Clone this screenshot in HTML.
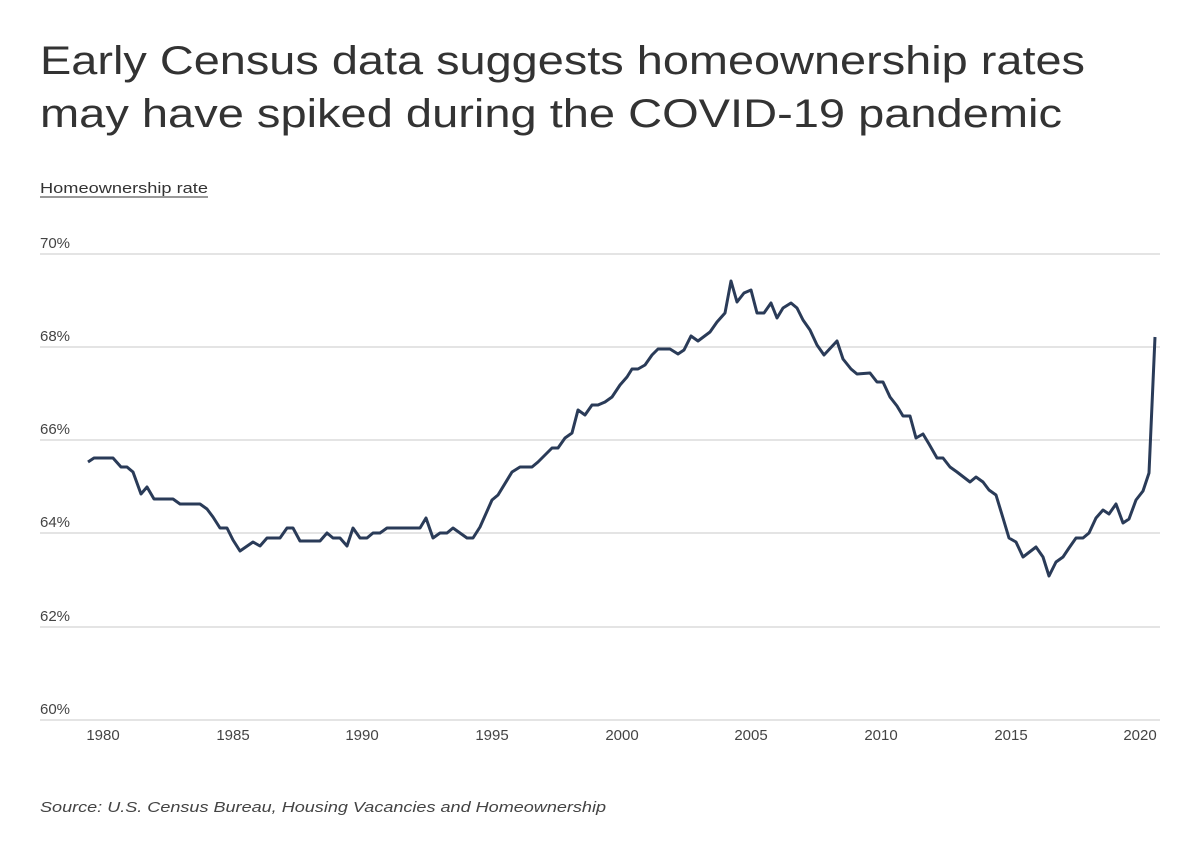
<!DOCTYPE html>
<html><head><meta charset="utf-8"><style>
body{margin:0;background:#fff;width:1200px;height:838px;overflow:hidden;font-family:"Liberation Sans",sans-serif}
</style></head><body>
<svg width="1200" height="838" xmlns="http://www.w3.org/2000/svg" font-family="Liberation Sans, sans-serif">
<text x="40" y="74" font-size="40" fill="#333" textLength="1045" lengthAdjust="spacingAndGlyphs">Early Census data suggests homeownership rates</text>
<text x="40" y="127" font-size="40" fill="#333" textLength="1022" lengthAdjust="spacingAndGlyphs">may have spiked during the COVID-19 pandemic</text>
<text x="40" y="193" font-size="15" fill="#333" textLength="168" lengthAdjust="spacingAndGlyphs">Homeownership rate</text>
<line x1="40" y1="197" x2="208" y2="197" stroke="#333" stroke-width="1"/>
<g stroke="#d4d4d4" stroke-width="1.3">
<line x1="40" y1="254" x2="1160" y2="254"/><line x1="40" y1="347" x2="1160" y2="347"/>
<line x1="40" y1="440" x2="1160" y2="440"/><line x1="40" y1="533" x2="1160" y2="533"/>
<line x1="40" y1="627" x2="1160" y2="627"/><line x1="40" y1="720" x2="1160" y2="720"/>
</g>
<g font-size="15" fill="#444">
<text x="40" y="248">70%</text><text x="40" y="341">68%</text><text x="40" y="434">66%</text>
<text x="40" y="527">64%</text><text x="40" y="621">62%</text><text x="40" y="714">60%</text>
</g>
<g font-size="15" fill="#444" text-anchor="middle">
<text x="103" y="740">1980</text><text x="233" y="740">1985</text><text x="362" y="740">1990</text>
<text x="492" y="740">1995</text><text x="622" y="740">2000</text><text x="751" y="740">2005</text>
<text x="881" y="740">2010</text><text x="1011" y="740">2015</text><text x="1140" y="740">2020</text>
</g>
<polyline fill="none" stroke="#2a3b58" stroke-width="3" stroke-linejoin="round" points="88,462 94,458 113,458 121,467 127,467 133,472 141,494 147,487 154,499 173,499 180,504 200,504 207,509 213,517 220,528 227,528 233,540 240,551 253,542 260,546 267,538 280,538 287,528 293,528 300,541 320,541 327,533 333,538 340,538 347,546 353,528 360,538 367,538 373,533 380,533 387,528 420,528 426,518 433,538 440,533 447,533 453,528 460,533 467,538 473,538 480,527 492,500 498,495 512,472 520,467 532,467 538,462 547,453 552,448 558,448 565,438 572,433 578,410 585,415 592,405 598,405 605,402 612,397 620,385 627,377 632,369 638,369 645,365 652,355 658,349 670,349 678,354 684,350 691,336 698,341 710,332 717,322 725,313 731,281 737,302 744,293 751,290 757,313 764,313 771,303 777,318 783,308 791,303 797,308 803,320 810,330 817,345 824,355 837,341 843,359 851,369 857,374 870,373 877,382 883,382 890,397 897,406 903,416 910,416 916,438 923,434 929,444 937,458 943,458 950,467 957,472 970,482 976,477 983,482 989,490 996,495 1003,518 1009,538 1016,542 1023,557 1036,547 1043,557 1049,576 1056,562 1063,557 1069,548 1076,538 1083,538 1089,533 1096,518 1103,510 1109,514 1116,504 1123,523 1129,519 1136,500 1143,491 1149,473 1155,337"/>
<text x="40" y="812" font-size="15" font-style="italic" fill="#444" textLength="566" lengthAdjust="spacingAndGlyphs">Source: U.S. Census Bureau, Housing Vacancies and Homeownership</text>
</svg>
</body></html>
